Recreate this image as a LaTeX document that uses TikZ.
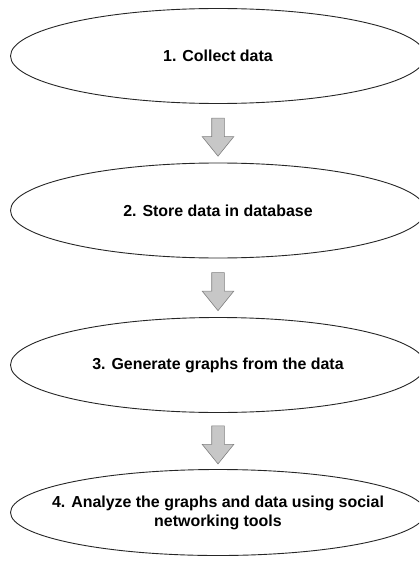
\documentclass[tikz,border=0pt]{standalone}
\usepackage{fontspec}
\setmainfont{Liberation Sans}
\usetikzlibrary{shapes.geometric,shapes.arrows,calc}

\tikzset{
  stepbox/.style={ellipse, draw=black!85, line width=0.9bp, minimum width=415bp,
    minimum height=95bp, inner sep=0pt},
  steptext/.style={align=center, inner sep=0pt,
    font=\bfseries\fontsize{16}{19}\selectfont},
  downarrow/.style={single arrow, draw=black!50, fill=black!22, line width=0.6bp,
    shape border rotate=270, minimum height=38bp, minimum width=31bp,
    single arrow head extend=9.5bp, single arrow tip angle=78, inner sep=6bp}
}

\begin{document}
\begin{tikzpicture}[x=1bp, y=1bp]
\useasboundingbox (0,0) rectangle (419,-564);
\clip (0,0) rectangle (419,-564);

% Pasos del proceso
\node[stepbox, label={[steptext]center:1. Collect data}] (collect) at (218,-56) {};
\node[stepbox, label={[steptext]center:2. Store data in database}] (store) at (218,-210.5) {};
\node[stepbox, label={[steptext]center:3. Generate graphs from the data}] (graphs) at (218,-365) {};
\node[stepbox, minimum height=86bp,
  label={[steptext]center:{4. Analyze the graphs and data using social\\networking tools}}] (analyze) at (218,-512.5) {};

% Flechas entre pasos
\node[downarrow] (arrowA) at ($(collect.south)!0.5!(store.north)$) {};
\node[downarrow] (arrowB) at ($(store.south)!0.5!(graphs.north)$) {};
\node[downarrow] (arrowC) at ($(graphs.south)!0.5!(analyze.north)$) {};

\end{tikzpicture}
\end{document}
